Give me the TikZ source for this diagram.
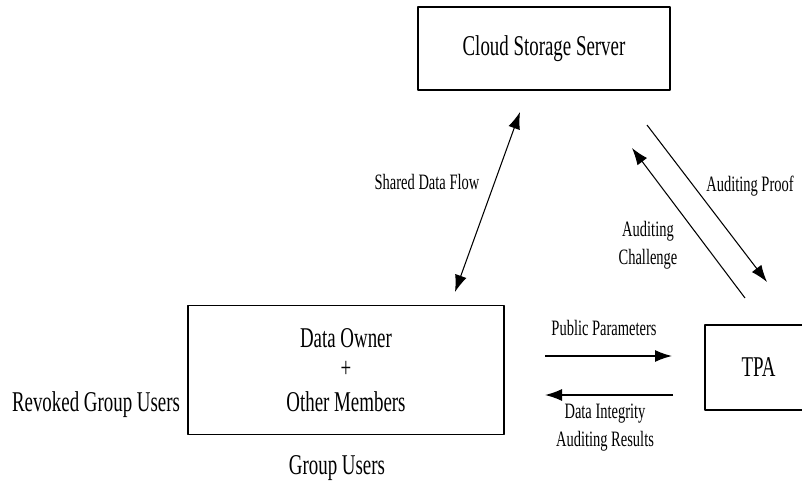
\documentclass[tikz,border=0pt]{standalone}
\usepackage{fontspec}
\setmainfont[FakeStretch=0.66]{Liberation Serif}
\usetikzlibrary{arrows.meta}
\begin{document}
\begin{tikzpicture}[x=0.02cm, y=-0.02cm, line join=round, >={Latex[length=3.4mm, width=2.4mm]},
	box/.style={draw, line width=0.8pt, inner sep=0pt},
	big/.style={font=\fontsize{16.3}{17}\selectfont},
	small/.style={font=\fontsize{12.5}{14}\selectfont, align=center}]
	\useasboundingbox (0,0) rectangle (802,490);
	
	% 1. The three boxes
	\node[box, big, minimum width=5.04cm, minimum height=1.66cm] (server) at (544,48.5) {Cloud Storage Server};
	\node[box, big, minimum width=6.32cm, minimum height=2.58cm, align=center] (group) at (346,370)
		{Data Owner\\ +\\[2.5pt] Other Members};
	\node[box, big, minimum width=2.14cm, minimum height=1.7cm] (tpa) at (758.5,367.5) {TPA};
	
	% Labels outside the boxes
	\node[big] (revoked) at (96,405) {Revoked Group Users};
	\node[big] (users) at (337,468) {Group Users};
	
	% 2. End points of the arrows
	\coordinate (S1) at (455,292);  % near the group box
	\coordinate (S2) at (520,112);  % near the server
	\coordinate (P1) at (647,125);  % proof, from server
	\coordinate (P2) at (767,282);  % proof, to TPA
	\coordinate (C1) at (745,298);  % challenge, from TPA
	\coordinate (C2) at (632,148);  % challenge, to server
	\coordinate (U1) at (545,356);  % parameters
	\coordinate (U2) at (672,356);
	\coordinate (R1) at (673,395);  % results
	\coordinate (R2) at (545,395);
	
	% 3. Arrows
	\draw[<->, line width=0.6pt] (S1) -- (S2);
	\draw[->, line width=0.6pt] (P1) -- (P2);
	\draw[->, line width=0.6pt] (C1) -- (C2);
	\draw[->, line width=0.8pt] (U1) -- (U2);
	\draw[->, line width=0.8pt] (R1) -- (R2);
	
	% Arrow labels
	\node[small] (flow) at (427,182) {Shared Data Flow};
	\node[small] (proof) at (750,186) {Auditing Proof};
	\node[small] (challenge) at (648,245) {Auditing\\[2pt] Challenge};
	\node[small] (params) at (604,328) {Public Parameters};
	\node[small] (results) at (605,428) {Data Integrity\\[2pt] Auditing Results};
\end{tikzpicture}
\end{document}
